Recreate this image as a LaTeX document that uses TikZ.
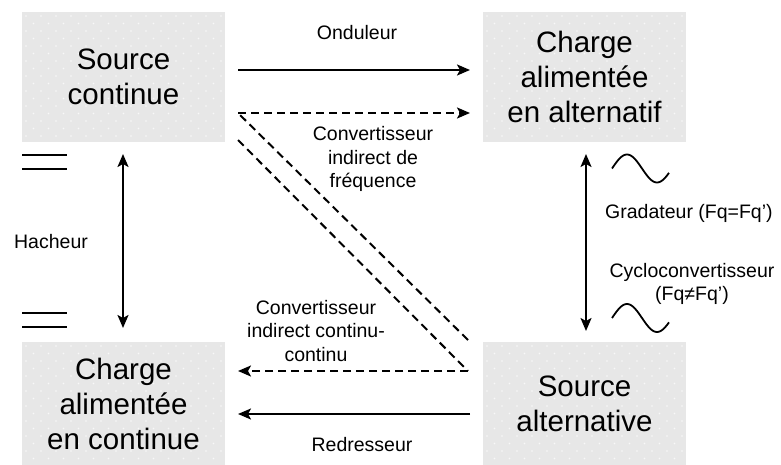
\documentclass[tikz,border=0pt]{standalone}
\usepackage{fontspec}
\setmainfont{Liberation Sans}
\usetikzlibrary{arrows.meta,calc}
\definecolor{boxgray}{RGB}{231,231,231}
\begin{document}
\begin{tikzpicture}[x=1pt,y=-1pt,
  box/.style={fill=boxgray,draw=none,minimum width=203pt,align=center,font=\fontsize{29.5}{35}\selectfont,inner sep=0pt,
    path picture={\foreach \i in {0,...,13} \foreach \j in {0,...,8} {
      \fill[white,opacity=0.75] ($(path picture bounding box.north west)+(\i*15+4,\j*15+4)$) circle (0.9pt);
      \fill[white,opacity=0.75] ($(path picture bounding box.north west)+(\i*15+11.5,\j*15+11.5)$) circle (0.9pt);}}},
  lbl/.style={align=center,font=\fontsize{19.5}{23.5}\selectfont,inner sep=0pt},
  tip/.tip={Stealth[length=13pt,width=11pt,inset=3pt]},
  conn/.style={line width=2pt,-tip},
  dconn/.style={conn,dash pattern=on 8pt off 5pt},
  dline/.style={line width=2pt,dash pattern=on 8pt off 5pt},
  bar/.style={line width=2pt},
  both/.style={line width=2pt,tip-tip}]
\useasboundingbox (0,0) rectangle (781,465);
\node[box,minimum height=130pt] (sc) at (123.5,77) {Source\\continue};
\node[box,minimum height=130pt] (ca) at (584.5,77) {Charge\\alimentée\\en alternatif};
\node[box,minimum height=124pt] (cc) at (123.5,404) {Charge\\alimentée\\en continue};
\node[box,minimum height=124pt] (sa) at (584.5,404) {Source\\alternative};
% connector end points
\coordinate (o1) at (238,70); \coordinate (o2) at (470,70);
\coordinate (f1) at (468,340); \coordinate (f2) at (238,113); \coordinate (f3) at (470,113);
\coordinate (c1) at (238,140); \coordinate (c2) at (468,371); \coordinate (c3) at (238,371);
\coordinate (r1) at (470,414); \coordinate (r2) at (238,414);
\coordinate (h1) at (123,154); \coordinate (h2) at (123,328);
\coordinate (g1) at (586,154); \coordinate (g2) at (586,331);
\draw[conn] (o1) -- (o2);
\draw[dline] (f1) -- (f2);
\draw[dconn] (f2) -- (f3);
\draw[dline] (c1) -- (c2);
\draw[dconn] (c2) -- (c3);
\draw[conn] (r1) -- (r2);
\draw[both] (h1) -- (h2);
\draw[both] (g1) -- (g2);
% DC symbols
\draw[bar] (22,155) -- (67,155) (22,169) -- (67,169);
\draw[bar] (22,313) -- (67,313) (22,327) -- (67,327);
% AC symbols
\draw[line width=1.8pt,domain=612:669,samples=60,smooth] plot (\x,{168.5-14*sin(6*(\x-612))});
\draw[line width=1.8pt,domain=612:669,samples=60,smooth] plot (\x,{318-14*sin(6*(\x-612))});
% labels
\node[lbl] (lo) at (357,33) {Onduleur};
\node[lbl] (lf) at (373,159) {Convertisseur\\indirect de\\fréquence};
\node[lbl] (lc) at (316,331) {Convertisseur\\indirect continu-\\continu};
\node[lbl] (lr) at (362,445) {Redresseur};
\node[lbl] (lh) at (51,242) {Hacheur};
\node[lbl,anchor=west] (lg) at (605,213) {Gradateur (Fq=Fq’)};
\node[lbl] (ly) at (692,284) {Cycloconvertisseur\\(Fq≠Fq’)};
\end{tikzpicture}
\end{document}
